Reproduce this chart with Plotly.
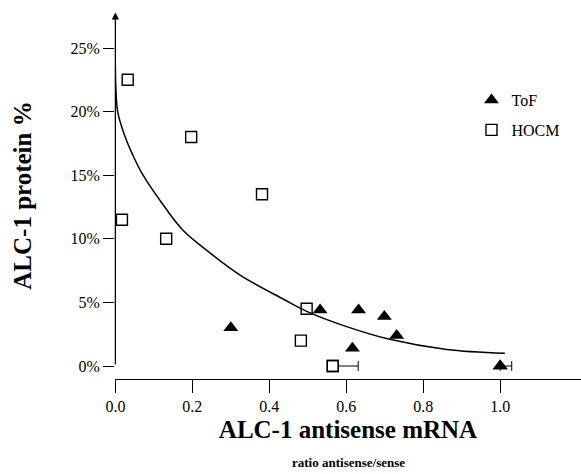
import plotly.graph_objects as go

# ToF group: antisense/sense ratio vs. ALC-1 protein (%)
tof_x = [0.30, 0.532, 0.632, 0.699, 0.731, 0.616, 1.0]
tof_y = [3.0, 4.4, 4.4, 3.9, 2.4, 1.4, 0.0]
tof_err_plus = [0, 0, 0, 0, 0, 0, 0.03]

# HOCM group
hocm_x = [0.032, 0.197, 0.381, 0.017, 0.132, 0.497, 0.482, 0.565]
hocm_y = [22.5, 18.0, 13.5, 11.5, 10.0, 4.5, 2.0, 0.0]
hocm_err_plus = [0, 0, 0, 0, 0, 0, 0, 0.066]

# Fitted regression curve
curve_x = [0.0, 0.001, 0.006, 0.022, 0.045, 0.07, 0.133, 0.175, 0.237,
           0.324, 0.437, 0.497, 0.601, 0.713, 0.861, 1.012]
curve_y = [23.5, 22.0, 20.0, 18.3, 16.6, 15.1, 12.3, 10.7, 9.1,
           7.15, 5.25, 4.3, 3.1, 2.1, 1.3, 1.0]

x_ticks = [0.0, 0.2, 0.4, 0.6, 0.8, 1.0]
y_ticks = [0, 5, 10, 15, 20, 25]
y_tick_labels = [f"{v}%" for v in y_ticks]

serif = "Liberation Serif, Times New Roman, serif"

tof_marker = dict(symbol="triangle-up", size=13, color="black")
hocm_marker = dict(symbol="square", size=11, color="rgba(0,0,0,0)",
                   line=dict(width=1.4, color="black"))


def with_error(xs, ys, errs):
    """Points that carry a one-sided horizontal error bar."""
    idx = [i for i, e in enumerate(errs) if e]
    return ([xs[i] for i in idx], [ys[i] for i in idx],
            [errs[i] for i in idx])


fig = go.Figure()

fig.add_trace(go.Scatter(
    x=curve_x, y=curve_y, mode="lines",
    line=dict(color="black", width=1.5, shape="spline", smoothing=1.0),
    showlegend=False, hoverinfo="skip",
))

# One-sided error bars (drawn under the markers)
for xs, ys, errs, marker in (
    (tof_x, tof_y, tof_err_plus, tof_marker),
    (hocm_x, hocm_y, hocm_err_plus,
     dict(hocm_marker, color="white")),
):
    ex, ey, ee = with_error(xs, ys, errs)
    fig.add_trace(go.Scatter(
        x=ex, y=ey, mode="markers", marker=marker, showlegend=False,
        error_x=dict(type="data", symmetric=False, array=ee,
                     arrayminus=[0] * len(ee), color="black",
                     thickness=1, width=5),
        cliponaxis=False, hoverinfo="skip",
    ))

fig.add_trace(go.Scatter(
    x=tof_x, y=tof_y, mode="markers", name="ToF", legendgroup="a",
    marker=tof_marker, cliponaxis=False,
))

fig.add_trace(go.Scatter(
    x=hocm_x, y=hocm_y, mode="markers", name="HOCM", legendgroup="b",
    marker=hocm_marker, cliponaxis=False,
))

# Vertical axis drawn as an arrow from 0% upward
fig.add_annotation(
    x=0, y=27.8, ax=0, ay=0, xref="x", yref="y", axref="x", ayref="y",
    text="", showarrow=True, arrowhead=2, arrowsize=1.1, arrowwidth=1.3,
    arrowcolor="black", standoff=0, startstandoff=0,
)

fig.add_annotation(
    x=0.5, y=-0.228, xref="paper", yref="paper",
    text="<b>ratio antisense/sense</b>", showarrow=False,
    font=dict(family=serif, size=13, color="black"),
    xanchor="center", yanchor="middle",
)

fig.update_layout(
    width=581, height=474,
    margin=dict(l=115, r=0, t=12, b=95),
    paper_bgcolor="white", plot_bgcolor="white",
    font=dict(family=serif, color="black"),
    legend=dict(
        x=0.765, y=0.806, xanchor="left", yanchor="top",
        font=dict(family=serif, size=16, color="black"),
        bgcolor="rgba(0,0,0,0)", traceorder="grouped", tracegroupgap=6,
    ),
    xaxis=dict(
        range=[-0.001, 1.21], showgrid=False, zeroline=False,
        showline=True, linecolor="black", linewidth=1.3,
        ticks="outside", ticklen=13, tickwidth=1.3, tickcolor="black",
        tickvals=x_ticks, tickformat=".1f",
        tickfont=dict(family=serif, size=16, color="black"),
        title=dict(text="<b>ALC-1 antisense mRNA</b>", standoff=6,
                   font=dict(family=serif, size=25, color="black")),
    ),
    yaxis=dict(
        range=[-1.02, 27.83], showgrid=False, zeroline=False,
        showline=False,
        ticks="outside", ticklen=11, tickwidth=1.3, tickcolor="black",
        tickmode="array", tickvals=y_ticks, ticktext=y_tick_labels,
        tickfont=dict(family=serif, size=16, color="black"),
        title=dict(text="<b>ALC-1 protein %</b>", standoff=31,
                   font=dict(family=serif, size=25, color="black")),
    ),
)

fig.write_html("out.html")
